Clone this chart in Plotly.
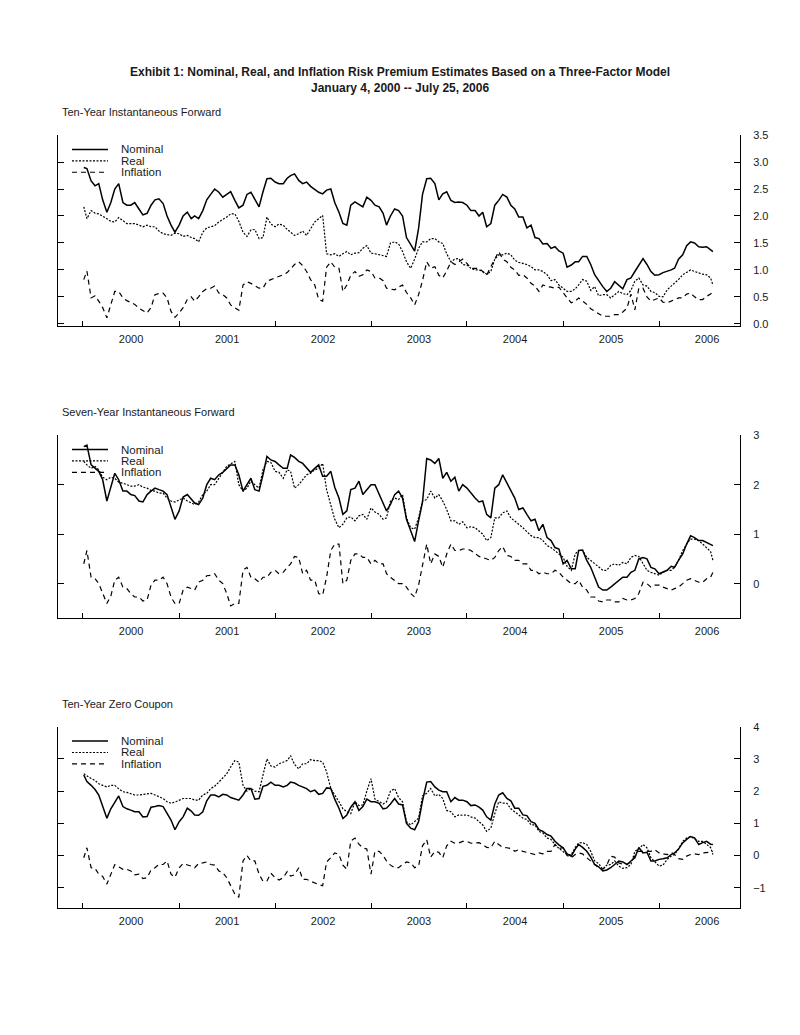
import plotly.graph_objects as go

# ---------------- data ----------------
# values on the 1st of each month (first = Jan 4 2000, last = Jul 25 2006)
month_dates = (["2000-01-04"]
               + [f"{2000 + m // 12}-{m % 12 + 1:02d}-01" for m in range(1, 79)]
               + ["2006-07-25"])
# values read half-way through each month (Jan 2000 .. Jul 2006)
mid_dates = [f"{2000 + m // 12}-{m % 12 + 1:02d}-16" for m in range(79)]

p1_nominal = [2.90, 2.65, 2.60, 2.07, 2.50, 2.25, 2.20, 2.13, 2.05, 2.30,
              2.23, 1.83, 1.83, 2.07, 2.00, 2.10, 2.40, 2.44, 2.40, 2.29,
              2.20, 2.44, 2.17, 2.69, 2.63, 2.60, 2.75, 2.66, 2.63, 2.50,
              2.41, 2.50, 2.07, 1.83, 2.26, 2.17, 2.29, 2.17, 1.83, 2.13,
              2.00, 1.46, 1.77, 2.69, 2.60, 2.41, 2.29, 2.26, 2.20, 2.10,
              2.07, 1.86, 2.29, 2.35, 2.13, 1.98, 1.83, 1.58, 1.49, 1.43,
              1.31, 1.09, 1.15, 1.25, 0.91, 0.69, 0.66, 0.72, 0.82, 0.97,
              1.21, 0.97, 0.91, 0.97, 1.03, 1.28, 1.52, 1.43, 1.43, 1.34]
p1_nominal_mid = [2.88, 2.56, 2.30, 2.25, 2.60, 2.20, 2.25, 2.02, 2.20, 2.32,
                  2.00, 1.70, 2.00, 1.95, 1.95, 2.30, 2.50, 2.35, 2.45, 2.15,
                  2.40, 2.30, 2.45, 2.70, 2.60, 2.70, 2.78, 2.60, 2.55, 2.44,
                  2.48, 2.25, 1.86, 2.20, 2.22, 2.35, 2.20, 2.05, 2.00, 2.10,
                  1.60, 1.35, 2.40, 2.70, 2.30, 2.45, 2.25, 2.25, 2.10, 2.00,
                  1.80, 2.20, 2.40, 2.20, 1.98, 1.78, 1.60, 1.48, 1.40, 1.35,
                  1.05, 1.15, 1.25, 1.10, 0.80, 0.60, 0.78, 0.65, 0.85, 1.10,
                  1.10, 0.90, 0.95, 1.00, 1.20, 1.45, 1.50, 1.42, 1.38]
p1_real = [2.17, 2.10, 2.04, 1.95, 1.89, 1.92, 1.86, 1.83, 1.83, 1.80,
           1.67, 1.64, 1.67, 1.64, 1.58, 1.70, 1.80, 1.89, 1.98, 2.04,
           1.70, 1.74, 1.58, 1.98, 1.80, 1.83, 1.70, 1.67, 1.64, 1.89,
           2.01, 1.28, 1.25, 1.34, 1.31, 1.40, 1.31, 1.28, 1.25, 1.52,
           1.34, 1.03, 1.40, 1.52, 1.58, 1.49, 1.15, 1.21, 1.09, 1.00,
           0.97, 0.97, 1.28, 1.31, 1.18, 1.12, 1.06, 1.00, 0.91, 0.82,
           0.66, 0.60, 0.72, 0.79, 0.69, 0.54, 0.48, 0.60, 0.54, 0.79,
           0.72, 0.60, 0.51, 0.63, 0.75, 0.91, 1.00, 0.94, 0.91, 0.72]
p1_real_mid = [1.95, 2.05, 2.00, 1.90, 1.97, 1.86, 1.86, 1.80, 1.80, 1.72,
               1.65, 1.68, 1.62, 1.60, 1.52, 1.78, 1.82, 1.93, 2.04, 1.90,
               1.62, 1.75, 1.60, 1.85, 1.85, 1.75, 1.64, 1.72, 1.75, 1.95,
               1.30, 1.30, 1.30, 1.28, 1.32, 1.45, 1.30, 1.26, 1.50, 1.48,
               1.15, 1.20, 1.52, 1.58, 1.52, 1.30, 1.20, 1.10, 1.03, 1.00,
               0.92, 1.20, 1.28, 1.28, 1.14, 1.10, 1.00, 0.97, 0.80, 0.72,
               0.60, 0.65, 0.82, 0.62, 0.52, 0.54, 0.54, 0.56, 0.62, 0.85,
               0.70, 0.58, 0.50, 0.70, 0.82, 0.95, 0.97, 0.92, 0.85]
p1_inflation = [0.82, 0.48, 0.42, 0.11, 0.60, 0.48, 0.39, 0.29, 0.20, 0.54,
                0.57, 0.23, 0.20, 0.45, 0.42, 0.60, 0.66, 0.57, 0.48, 0.29,
                0.72, 0.75, 0.66, 0.79, 0.85, 0.91, 1.03, 1.15, 0.97, 0.72,
                0.42, 1.15, 1.03, 0.72, 0.97, 0.91, 0.97, 0.85, 0.66, 0.63,
                0.72, 0.48, 0.54, 1.15, 1.06, 0.85, 1.15, 1.15, 1.12, 1.03,
                0.97, 1.06, 1.34, 1.15, 1.00, 0.91, 0.75, 0.60, 0.69, 0.66,
                0.57, 0.39, 0.48, 0.36, 0.23, 0.14, 0.14, 0.17, 0.29, 0.26,
                0.66, 0.42, 0.48, 0.39, 0.45, 0.48, 0.57, 0.45, 0.51, 0.60]
p1_inflation_mid = [0.98, 0.52, 0.30, 0.35, 0.60, 0.43, 0.36, 0.24, 0.30, 0.56,
                    0.48, 0.12, 0.30, 0.50, 0.50, 0.65, 0.70, 0.54, 0.35, 0.25,
                    0.78, 0.70, 0.66, 0.82, 0.87, 0.95, 1.10, 1.08, 0.82, 0.45,
                    1.05, 1.05, 0.60, 0.90, 0.88, 1.00, 0.85, 0.80, 0.65, 0.68,
                    0.58, 0.35, 0.80, 1.03, 0.90, 0.98, 1.10, 1.20, 1.03, 1.03,
                    0.90, 1.20, 1.20, 1.05, 0.90, 0.85, 0.70, 0.72, 0.68, 0.68,
                    0.48, 0.42, 0.42, 0.28, 0.18, 0.14, 0.17, 0.22, 0.55, 0.66,
                    0.50, 0.45, 0.40, 0.42, 0.48, 0.55, 0.50, 0.45, 0.55]

p2_nominal = [2.77, 2.40, 2.27, 1.67, 2.23, 1.87, 1.80, 1.67, 1.80, 1.93,
              1.87, 1.53, 1.47, 1.80, 1.63, 1.73, 2.13, 2.20, 2.33, 2.40,
              1.87, 2.13, 1.87, 2.57, 2.47, 2.33, 2.60, 2.47, 2.33, 2.33,
              2.17, 2.27, 1.73, 1.47, 1.93, 1.80, 2.00, 1.80, 1.47, 1.80,
              1.73, 1.07, 1.27, 2.53, 2.43, 2.13, 2.07, 1.87, 1.93, 1.73,
              1.67, 1.33, 2.00, 2.03, 1.73, 1.53, 1.27, 1.07, 0.93, 0.73,
              0.40, 0.30, 0.67, 0.47, 0.13, -0.13, -0.07, 0.07, 0.13, 0.27,
              0.53, 0.33, 0.20, 0.27, 0.33, 0.60, 0.97, 0.87, 0.83, 0.77]
p2_nominal_mid = [2.80, 2.33, 2.10, 1.95, 2.10, 1.87, 1.78, 1.65, 1.87, 1.90,
                  1.80, 1.30, 1.75, 1.70, 1.60, 2.00, 2.10, 2.25, 2.40, 2.20,
                  2.00, 1.90, 2.20, 2.50, 2.40, 2.33, 2.55, 2.43, 2.25, 2.40,
                  2.17, 1.95, 1.40, 1.90, 2.07, 1.90, 2.00, 1.65, 1.60, 1.87,
                  1.30, 0.85, 1.65, 2.50, 2.53, 2.25, 2.15, 2.00, 1.83, 1.65,
                  1.40, 1.93, 2.20, 1.90, 1.50, 1.40, 1.30, 1.20, 0.87, 0.70,
                  0.47, 0.30, 0.68, 0.33, -0.07, -0.13, 0.00, 0.13, 0.23, 0.50,
                  0.50, 0.30, 0.24, 0.35, 0.47, 0.80, 0.93, 0.87, 0.80]
p2_real = [2.47, 2.33, 2.30, 2.10, 2.13, 2.03, 1.97, 2.00, 1.93, 1.87,
           1.83, 1.67, 1.70, 1.67, 1.60, 1.80, 2.00, 2.13, 2.37, 2.47,
           1.87, 2.07, 1.93, 2.47, 2.27, 2.13, 2.27, 2.00, 2.20, 2.30,
           2.43, 1.60, 1.13, 1.33, 1.27, 1.40, 1.53, 1.40, 1.33, 1.73,
           1.80, 1.13, 1.33, 1.70, 1.73, 1.67, 1.27, 1.20, 1.13, 1.13,
           1.00, 0.93, 1.33, 1.47, 1.27, 1.13, 0.97, 0.93, 0.77, 0.67,
           0.53, 0.27, 0.67, 0.53, 0.40, 0.27, 0.37, 0.37, 0.40, 0.57,
           0.40, 0.23, 0.17, 0.27, 0.33, 0.67, 0.90, 0.87, 0.73, 0.47]
p2_real_mid = [2.40, 2.37, 2.15, 2.15, 2.05, 2.00, 1.97, 1.95, 1.88, 1.83,
               1.73, 1.65, 1.73, 1.63, 1.65, 1.87, 2.00, 2.25, 2.42, 2.00,
               1.93, 2.00, 2.30, 2.45, 2.25, 2.30, 1.93, 2.10, 2.23, 2.33,
               1.90, 1.30, 1.20, 1.35, 1.37, 1.30, 1.45, 1.30, 1.67, 1.70,
               1.33, 1.10, 1.67, 1.87, 1.80, 1.50, 1.27, 1.25, 1.15, 1.07,
               0.87, 1.33, 1.43, 1.33, 1.20, 1.05, 0.93, 0.87, 0.73, 0.60,
               0.35, 0.60, 0.67, 0.47, 0.33, 0.27, 0.40, 0.43, 0.53, 0.55,
               0.27, 0.20, 0.23, 0.27, 0.47, 0.80, 0.90, 0.80, 0.65]
p2_inflation = [0.40, 0.13, 0.00, -0.40, 0.07, -0.07, -0.20, -0.27, -0.33, 0.07,
                0.13, -0.27, -0.40, -0.07, -0.13, 0.07, 0.17, 0.07, -0.20, -0.40,
                0.27, 0.13, 0.03, 0.13, 0.27, 0.23, 0.40, 0.53, 0.27, 0.07,
                -0.23, 0.67, 0.80, 0.07, 0.60, 0.53, 0.40, 0.40, 0.20, 0.07,
                0.00, -0.20, -0.03, 0.80, 0.60, 0.33, 0.80, 0.67, 0.70, 0.60,
                0.53, 0.47, 0.67, 0.57, 0.47, 0.40, 0.27, 0.20, 0.20, 0.27,
                0.13, 0.00, 0.07, -0.13, -0.27, -0.37, -0.33, -0.37, -0.33, -0.30,
                0.03, -0.07, -0.03, -0.10, -0.10, 0.00, 0.10, 0.03, 0.10, 0.23]
p2_inflation_mid = [0.67, 0.10, -0.20, -0.25, 0.13, -0.10, -0.27, -0.35, -0.03, 0.07,
                    0.00, -0.40, -0.13, -0.10, 0.03, 0.16, 0.20, 0.00, -0.45, -0.40,
                    0.33, 0.10, 0.13, 0.23, 0.20, 0.33, 0.55, 0.20, 0.07, -0.20,
                    0.13, 0.80, 0.00, 0.47, 0.60, 0.53, 0.47, 0.40, 0.13, 0.00,
                    -0.07, -0.27, 0.40, 0.40, 0.55, 0.60, 0.67, 0.70, 0.67, 0.55,
                    0.50, 0.53, 0.75, 0.55, 0.47, 0.40, 0.27, 0.23, 0.20, 0.23,
                    0.07, 0.00, -0.07, -0.27, -0.35, -0.33, -0.37, -0.30, -0.33, -0.20,
                    0.00, -0.03, -0.07, -0.13, -0.07, 0.07, 0.07, 0.03, 0.13]

p3_nominal = [2.50, 2.18, 1.88, 1.16, 1.67, 1.52, 1.41, 1.36, 1.21, 1.52,
              1.52, 1.10, 1.05, 1.47, 1.26, 1.36, 1.88, 1.82, 1.88, 1.77,
              1.88, 2.08, 1.77, 2.18, 2.18, 2.13, 2.28, 2.18, 2.08, 2.03,
              1.93, 2.08, 1.47, 1.26, 1.67, 1.52, 1.67, 1.62, 1.47, 1.77,
              1.57, 0.85, 1.05, 2.28, 2.13, 1.98, 1.67, 1.72, 1.67, 1.57,
              1.41, 1.10, 1.88, 1.77, 1.47, 1.26, 1.05, 0.80, 0.65, 0.44,
              0.24, -0.02, 0.34, 0.13, -0.28, -0.48, -0.38, -0.17, -0.28, -0.07,
              0.08, -0.17, -0.12, -0.07, 0.08, 0.39, 0.59, 0.34, 0.44, 0.34]
p3_nominal_mid = [2.30, 2.05, 1.50, 1.45, 1.85, 1.45, 1.36, 1.20, 1.50, 1.55,
                  1.30, 0.80, 1.20, 1.38, 1.25, 1.70, 1.88, 1.90, 1.80, 1.72,
                  2.08, 1.75, 2.15, 2.28, 2.18, 2.18, 2.25, 2.12, 1.98, 1.90,
                  2.10, 1.75, 1.15, 1.50, 1.40, 1.75, 1.67, 1.45, 1.60, 1.60,
                  1.00, 0.80, 1.70, 2.30, 2.03, 1.98, 1.80, 1.72, 1.55, 1.50,
                  1.20, 1.60, 1.95, 1.70, 1.47, 1.24, 1.00, 0.75, 0.60, 0.33,
                  0.05, 0.20, 0.25, -0.05, -0.35, -0.45, -0.28, -0.20, -0.17, 0.25,
                  0.10, -0.17, -0.10, 0.03, 0.20, 0.50, 0.55, 0.40, 0.35]
p3_real = [2.54, 2.39, 2.23, 2.13, 2.18, 1.98, 1.93, 1.88, 1.93, 1.88,
           1.77, 1.62, 1.72, 1.77, 1.72, 1.88, 2.08, 2.28, 2.54, 2.95,
           2.18, 2.08, 1.98, 3.00, 2.75, 2.90, 3.10, 2.69, 2.85, 2.95,
           2.90, 2.08, 1.67, 1.36, 1.67, 1.57, 2.39, 1.67, 1.67, 2.08,
           1.67, 0.95, 1.16, 1.93, 1.85, 1.77, 1.36, 1.26, 1.26, 1.16,
           0.95, 0.85, 1.67, 1.62, 1.36, 1.16, 0.95, 0.75, 0.54, 0.34,
           0.13, 0.03, 0.39, 0.34, -0.17, -0.43, -0.28, -0.33, -0.38, 0.13,
           0.34, -0.07, -0.33, -0.12, 0.03, 0.44, 0.59, 0.44, 0.34, 0.03]
p3_real_mid = [2.47, 2.33, 2.18, 2.18, 2.07, 1.96, 1.88, 1.90, 1.93, 1.83,
               1.67, 1.66, 1.77, 1.77, 1.72, 1.93, 2.15, 2.40, 2.75, 2.90,
               2.00, 2.00, 2.50, 2.78, 2.85, 2.95, 2.83, 2.85, 2.98, 2.95,
               2.60, 1.90, 1.45, 1.30, 1.55, 2.00, 1.75, 1.60, 2.00, 1.80,
               1.05, 1.05, 1.85, 2.08, 1.90, 1.40, 1.20, 1.25, 1.20, 1.05,
               0.75, 1.30, 1.63, 1.45, 1.26, 1.12, 0.95, 0.70, 0.50, 0.22,
               0.03, 0.25, 0.40, 0.13, -0.25, -0.30, -0.17, -0.40, -0.28, 0.20,
               0.24, -0.20, -0.30, -0.02, 0.20, 0.54, 0.52, 0.44, 0.25]
p3_inflation = [-0.07, -0.38, -0.58, -0.89, -0.28, -0.43, -0.48, -0.58, -0.69, -0.38,
                -0.28, -0.58, -0.38, -0.28, -0.38, -0.23, -0.28, -0.48, -0.69, -1.20,
                -0.17, -0.17, -0.58, -0.79, -0.69, -0.69, -0.64, -0.38, -0.74, -0.84,
                -0.94, -0.07, 0.03, -0.43, 0.54, 0.24, -0.58, 0.13, -0.17, -0.38,
                -0.28, -0.23, -0.33, 0.49, 0.13, -0.07, 0.44, 0.39, 0.44, 0.39,
                0.34, 0.24, 0.34, 0.24, 0.13, 0.13, 0.08, 0.08, 0.13, 0.34,
                0.24, -0.07, 0.08, -0.07, -0.28, -0.43, -0.02, -0.23, -0.28, -0.02,
                0.13, 0.13, 0.08, 0.03, 0.03, -0.12, 0.03, 0.03, 0.08, 0.13]
p3_inflation_mid = [0.24, -0.40, -0.65, -0.60, -0.35, -0.43, -0.60, -0.72, -0.45, -0.28,
                    -0.17, -0.68, -0.25, -0.33, -0.25, -0.20, -0.30, -0.53, -0.95, -1.30,
                    0.00, -0.17, -0.80, -0.55, -0.76, -0.50, -0.60, -0.74, -0.80, -0.90,
                    -0.20, 0.08, -0.30, 0.45, 0.35, 0.20, 0.13, 0.00, -0.30, -0.38,
                    -0.20, -0.38, 0.30, -0.05, 0.10, 0.30, 0.38, 0.44, 0.38, 0.40,
                    0.25, 0.44, 0.25, 0.22, 0.18, 0.10, 0.03, 0.05, 0.13, 0.22,
                    0.00, 0.03, 0.05, -0.17, -0.38, -0.30, -0.05, -0.27, -0.20, 0.13,
                    0.12, 0.18, 0.05, 0.10, -0.10, -0.02, 0.05, 0.08, 0.10]

series_names = ["Nominal", "Real", "Inflation"]
panel_titles = ["Ten-Year Instantaneous Forward",
                "Seven-Year Instantaneous Forward",
                "Ten-Year Zero Coupon"]
panels = [
    ((p1_nominal, p1_nominal_mid), (p1_real, p1_real_mid), (p1_inflation, p1_inflation_mid)),
    ((p2_nominal, p2_nominal_mid), (p2_real, p2_real_mid), (p2_inflation, p2_inflation_mid)),
    ((p3_nominal, p3_nominal_mid), (p3_real, p3_real_mid), (p3_inflation, p3_inflation_mid)),
]
title_text = ("<b>Exhibit 1: Nominal, Real, and Inflation Risk Premium Estimates "
              "Based on a Three-Factor Model</b><br><b>January 4, 2000 -- July 25, 2006</b>")


def merge(monthly, mid):
    """Put the month-start and mid-month readings in date order."""
    xs, ys = [], []
    for k in range(len(monthly)):
        xs.append(month_dates[k]); ys.append(monthly[k])
        if k < len(mid):
            xs.append(mid_dates[k]); ys.append(mid[k])
    return xs, ys


# ---------------- styling ----------------
W, H = 800, 1035
OFF = 8  # page body margin in the browser
FONT = "Liberation Sans"
TXT = "#1a1a1a"
styles = [dict(color="black", width=1.5, dash="solid"),
          dict(color="black", width=1.2, dash="2px,1.5px"),
          dict(color="black", width=1.2, dash="5px,4px")]


def px_x(p):
    return (p - OFF) / W


def px_y(p):
    return 1 - (p - OFF) / H


x_left_px, x_right_px = 58, 740
# (top_px, bottom_px, y_range, dtick, tickformat)
panel_geom = [
    (130.3, 323.0, [-0.04, 3.5], 0.5, ".1f"),
    (433.3, 617.7, [-0.69, 3.0], 1, "d"),
    (727.7, 911.0, [-1.64, 4.0], 1, "d"),
]
subtitle_y_px = [106.5, 410, 704.5]
legend_row_offsets = [14.5, 26, 37.5]

fig = go.Figure()
shapes = []

for i, (vals, geom) in enumerate(zip(panels, panel_geom)):
    n = "" if i == 0 else str(i + 1)
    top, bot, yr, dt, fmt = geom
    for k, (name, (vm, vh), st) in enumerate(zip(series_names, vals, styles)):
        xs, ys = merge(vm, vh)
        fig.add_trace(go.Scatter(
            x=xs, y=ys, mode="lines", name=name,
            line=st, xaxis="x" + n, yaxis="y" + n, showlegend=False,
        ))
        # legend key (sample line + label)
        ry = px_y(top + legend_row_offsets[k])
        shapes.append(dict(type="line", xref="paper", yref="paper",
                           x0=px_x(72), x1=px_x(108), y0=ry, y1=ry,
                           line=dict(color="black", width=st["width"], dash=st["dash"])))
        fig.add_annotation(text=name, xref="paper", yref="paper",
                           x=px_x(119), y=ry, xanchor="left", yanchor="middle",
                           showarrow=False,
                           font=dict(family=FONT, size=11.5, color=TXT))
    fig.layout["xaxis" + n] = dict(
        type="date", range=["1999-09-28", "2006-11-05"],
        tick0="2000-01-01", dtick="M12", ticklabelmode="period", tickformat="%Y",
        ticks="inside", ticklen=5, tickcolor="black",
        showline=True, linecolor="black", linewidth=1,
        showgrid=False, zeroline=False, ticklabelstandoff=3,
        tickfont=dict(family=FONT, size=11, color=TXT),
        domain=[px_x(x_left_px), px_x(x_right_px)], anchor="y" + n,
    )
    fig.layout["yaxis" + n] = dict(
        range=yr, dtick=dt, tick0=0, tickformat=fmt, side="right",
        ticks="inside", ticklen=6, tickcolor="black",
        showline=True, linecolor="black", linewidth=1, mirror="ticks",
        showgrid=False, zeroline=False,
        tickfont=dict(family=FONT, size=11, color=TXT),
        ticklabelstandoff=10,
        domain=[px_y(bot), px_y(top)], anchor="x" + n,
    )
    fig.add_annotation(
        text=panel_titles[i], xref="paper", yref="paper",
        x=px_x(60), y=px_y(subtitle_y_px[i]), xanchor="left", yanchor="middle",
        showarrow=False, font=dict(family=FONT, size=11, color=TXT),
    )

fig.add_annotation(
    text=title_text, xref="paper", yref="paper",
    x=px_x(400), y=px_y(74.5), xanchor="center", yanchor="middle",
    showarrow=False, font=dict(family=FONT, size=12, color=TXT),
)

fig.update_layout(
    width=W, height=H, margin=dict(l=0, r=0, t=0, b=0),
    paper_bgcolor="white", plot_bgcolor="white",
    font=dict(family=FONT, color=TXT), shapes=shapes,
    showlegend=False,
)

fig.write_html("out.html")
